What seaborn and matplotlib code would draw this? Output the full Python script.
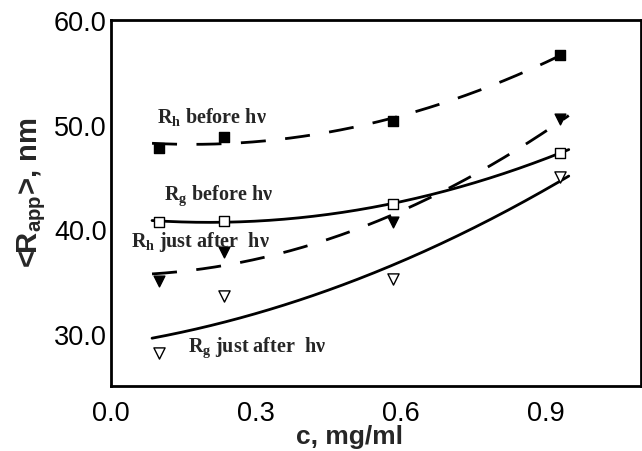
import numpy as np
import pandas as pd
import matplotlib
matplotlib.use("Agg")
import matplotlib.pyplot as plt
import seaborn as sns

# Concentration of the samples, mg/ml
conc = [0.10, 0.235, 0.585, 0.93]

# Apparent radii, nm
rh_before = [47.8, 48.8, 50.3, 56.7]
rg_before = [40.7, 40.8, 42.4, 47.3]
rh_after = [35.0, 37.8, 40.7, 50.5]
rg_after = [28.2, 33.6, 35.2, 45.0]

x_ticks = [0.0, 0.3, 0.6, 0.9]
y_ticks = [30.0, 40.0, 50.0, 60.0]

sns.set_theme(style="white")
plt.rcParams["font.family"] = ["Liberation Sans", "DejaVu Sans"]
plt.rcParams["mathtext.fontset"] = "custom"
plt.rcParams["mathtext.rm"] = "Liberation Serif:bold"
plt.rcParams["mathtext.bf"] = "Liberation Serif:bold"
plt.rcParams["mathtext.it"] = "Liberation Serif:bold"
plt.rcParams["mathtext.sf"] = "Liberation Sans:bold"

fig = plt.figure(figsize=(6.42, 4.52), dpi=100)
ax = fig.add_axes([0.1729, 0.1438, 0.8251, 0.8097])

series = [
    (rh_before, "s", "black", (9, 7)),
    (rg_before, "s", "white", None),
    (rh_after, "v", "black", (9, 7)),
    (rg_after, "v", "white", None),
]

xfit = np.linspace(0.085, 0.948, 200)
for vals, mk, face, dash in series:
    # quadratic fit through each data set
    coef = np.polyfit(conc, vals, 2)
    fit = pd.DataFrame({"c": xfit, "r": np.polyval(coef, xfit)})
    line_kw = dict(color="black", linewidth=2.0)
    if dash is not None:
        line_kw["dashes"] = [dash]
        fit["s"] = "a"
        sns.lineplot(data=fit, x="c", y="r", style="s", ax=ax, legend=False, **line_kw)
    else:
        sns.lineplot(data=fit, x="c", y="r", ax=ax, legend=False, **line_kw)
    pts = pd.DataFrame({"c": conc, "r": vals})
    size = 45 if mk == "s" else 60
    if face == "white":
        size = 50 if mk == "s" else 65
    sns.scatterplot(data=pts, x="c", y="r", marker=mk, s=size, color=face,
                    edgecolor="black", linewidth=1.0, ax=ax, zorder=3, legend=False)

ax.set_xlim(0.0, 1.097)
ax.set_ylim(25.0, 60.0)
ax.set_xticks(x_ticks)
ax.set_xticklabels([f"{v:.1f}" for v in x_ticks])
ax.set_yticks(y_ticks)
ax.set_yticklabels([f"{v:.1f}" for v in y_ticks])
ax.tick_params(axis="both", direction="in", length=6, width=2.0,
               labelsize=19.5, colors="black", pad=3)
ax.tick_params(axis="x", pad=10)
for side in ["left", "bottom", "top", "right"]:
    ax.spines[side].set_visible(True)
    ax.spines[side].set_color("black")
    ax.spines[side].set_linewidth(2.0)

ax.set_xlabel("c, mg/ml", fontsize=19, fontweight="bold")
ax.xaxis.set_label_coords(0.45, -0.105)
ax.set_ylabel(r"<R$_{\mathsf{app}}$>, nm", fontsize=21, fontweight="bold")
ax.yaxis.set_label_coords(-0.12, 0.53)

label_kw = dict(fontsize=14.5, fontweight="bold", family=["Liberation Serif", "DejaVu Serif"],
                ha="left", va="baseline")
ax.text(0.095, 50.26, r"$\mathbf{R_h}$ before hν", **label_kw)
ax.text(0.110, 42.9, r"$\mathbf{R_g}$ before hν", **label_kw)
ax.text(0.041, 38.4, r"$\mathbf{R_h}$ just after  hν", **label_kw)
ax.text(0.159, 28.3, r"$\mathbf{R_g}$ just after  hν", **label_kw)

fig.savefig("out.png", dpi=100)
